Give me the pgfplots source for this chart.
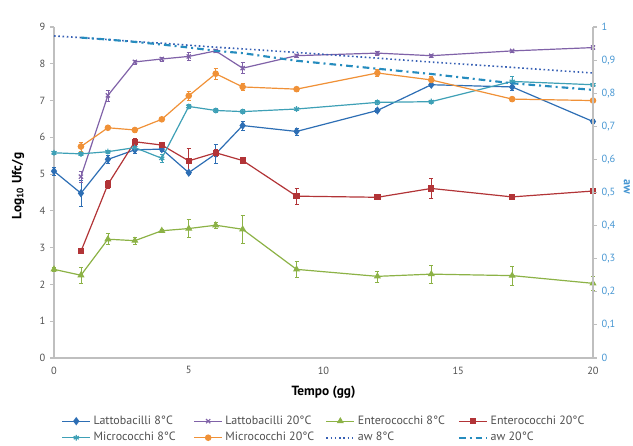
\documentclass[border=0pt]{standalone}
\usepackage{fontspec}
\setmainfont{PT Sans}
\usepackage{pgfplots}
\pgfplotsset{compat=1.18}
\definecolor{cLattA}{RGB}{45,110,180}
\definecolor{cLattB}{RGB}{128,98,168}
\definecolor{cEntA}{RGB}{140,178,70}
\definecolor{cEntB}{RGB}{178,52,55}
\definecolor{cMicA}{RGB}{62,160,182}
\definecolor{cMicB}{RGB}{240,145,55}
\definecolor{cAwA}{RGB}{55,96,180}
\definecolor{cAwB}{RGB}{38,140,190}
\definecolor{axgray}{RGB}{191,191,191}
\definecolor{txgray}{RGB}{80,80,80}
\definecolor{txblue}{RGB}{70,150,210}
\pgfplotsset{
  ser/.style={line width=0.9pt, mark size=2pt, mark options={solid}},
  latt8/.style={ser, color=cLattA, mark=diamond*, mark size=2.4pt},
  latt20/.style={ser, color=cLattB, mark=x, mark size=2.2pt},
  ent8/.style={ser, color=cEntA, mark=triangle*, mark size=2.2pt},
  ent20/.style={ser, color=cEntB, mark=square*, mark size=1.9pt},
  mic8/.style={ser, color=cMicA, mark=asterisk, mark size=2.2pt},
  mic20/.style={ser, color=cMicB, mark=*, mark size=2pt},
  aw8/.style={color=cAwA, line width=1.2pt, dotted, no markers},
  aw20/.style={color=cAwB, line width=1.6pt, dash pattern=on 5pt off 3pt on 1.5pt off 3pt, no markers},
  eb/.style={error bars/.cd, y dir=both, y explicit, error bar style={line width=0.4pt, solid}, error mark options={mark size=1.5pt, line width=0.4pt, solid, rotate=90}},
}
\newcommand{\legtxt}[1]{\makebox[69pt][l]{#1}}
\begin{document}
\begin{tikzpicture}
\begin{axis}[
  at={(0,0)}, anchor=south west, scale only axis,
  width=404.25pt, height=248.25pt,
  xmin=0, xmax=20, ymin=0, ymax=9,
  clip=false,
  axis x line*=bottom, axis y line*=left,
  axis line style={axgray, line width=0.8pt},
  xtick={0,5,10,15,20}, ytick={0,1,...,9},
  x tick style={draw=none},
  y tick style={axgray, line width=0.8pt},
  tick align=outside, major tick length=3pt,
  ticklabel style={font=\fontsize{7.8}{9}\selectfont, color=txgray},
  /pgf/number format/assume math mode=true,
  xlabel={\textbf{Tempo (gg)}},
  ylabel={\textbf{Log\textsubscript{10} Ufc/g}},
  label style={font=\fontsize{10}{12}\selectfont, color=black},
  xlabel style={at={(axis description cs:0.5,-0.103)}, anchor=center},
  ylabel style={at={(axis description cs:-0.0668,0.52)}, anchor=center},
]
\addplot[latt8, eb] table[x=x, y=y, y error=e] {
x y e
0 5.08 0.10
1 4.48 0.35
2 5.40 0.10
3 5.66 0.10
4 5.68 0.05
5 5.04 0.05
6 5.55 0.25
7 6.32 0.12
9 6.16 0.10
12 6.73 0.05
14 7.43 0.05
17 7.37 0.10
20 6.43 0.05
};
\addplot[latt20, eb] table[x=x, y=y, y error=e] {
x y e
1 4.93 0.15
2 7.14 0.15
3 8.05 0.05
4 8.13 0.05
5 8.20 0.10
6 8.35 0.05
7 7.88 0.15
9 8.22 0.05
12 8.29 0.05
14 8.22 0.05
17 8.35 0.03
20 8.44 0.05
};
\addplot[ent8, eb] table[x=x, y=y, y error=e] {
x y e
0 2.41 0.05
1 2.25 0.22
2 3.23 0.15
3 3.19 0.10
4 3.46 0.05
5 3.52 0.25
6 3.61 0.08
7 3.50 0.38
9 2.41 0.22
12 2.22 0.15
14 2.28 0.25
17 2.24 0.25
20 2.03 0.20
};
\addplot[ent20, eb] table[x=x, y=y, y error=e] {
x y e
1 2.90 0.05
2 4.72 0.10
3 5.88 0.10
4 5.79 0.05
5 5.36 0.33
6 5.58 0.10
7 5.37 0.05
9 4.40 0.22
12 4.37 0.05
14 4.61 0.28
17 4.38 0.05
20 4.54 0.05
};
\addplot[mic8, eb] table[x=x, y=y, y error=e] {
x y e
0 5.58 0.03
1 5.55 0.05
2 5.61 0.03
3 5.72 0.05
4 5.43 0.10
5 6.84 0.05
6 6.73 0.05
7 6.70 0.05
9 6.77 0.03
12 6.95 0.05
14 6.97 0.05
17 7.52 0.15
20 7.43 0.05
};
\addplot[mic20, eb] table[x=x, y=y, y error=e] {
x y e
1 5.75 0.12
2 6.26 0.05
3 6.20 0.05
4 6.49 0.05
5 7.13 0.12
6 7.73 0.15
7 7.37 0.10
9 7.31 0.05
12 7.75 0.10
14 7.56 0.10
17 7.04 0.05
20 7.00 0.05
};
\end{axis}
\begin{axis}[
  at={(0,0)}, anchor=south west, scale only axis,
  width=404.25pt, height=248.25pt,
  xmin=0, xmax=20, ymin=0, ymax=1,
  clip=false,
  axis x line=none, axis y line*=right,
  axis line style={axgray, line width=0.8pt},
  ytick={0,0.1,0.2,0.3,0.4,0.5,0.6,0.7,0.8,0.9,1},
  y tick style={axgray, line width=0.8pt},
  tick align=outside, major tick length=3pt,
  yticklabel style={font=\fontsize{7.8}{9}\selectfont, color=txblue,
    /pgf/number format/.cd, use comma, fixed, precision=1},
  /pgf/number format/assume math mode=true,
  ylabel={\textbf{aw}},
  ylabel style={font=\fontsize{9}{11}\selectfont, color=txblue, at={(axis description cs:1.0631,0.517)}, anchor=center, rotate=180},
  legend columns=4,
  legend cell align=left,
  legend style={draw=none, fill=none, at={(0.5,-0.158)}, anchor=north,
    font=\fontsize{9}{10.5}\selectfont, text=txgray, row sep=0.5pt,
    /tikz/every even column/.append style={column sep=4pt}},
  legend image code/.code={\draw[mark repeat=2, mark phase=2] plot coordinates {(0cm,0cm) (0.37cm,0cm) (0.74cm,0cm)};},
]
\addlegendimage{latt8}\addlegendentry{\legtxt{Lattobacilli 8°C}}
\addlegendimage{latt20}\addlegendentry{\legtxt{Lattobacilli 20°C}}
\addlegendimage{ent8}\addlegendentry{\legtxt{Enterococchi 8°C}}
\addlegendimage{ent20}\addlegendentry{\legtxt{Enterococchi 20°C}}
\addlegendimage{mic8}\addlegendentry{\legtxt{Micrococchi 8°C}}
\addlegendimage{mic20}\addlegendentry{\legtxt{Micrococchi 20°C}}
\addplot[aw8] table[x=x, y=y] {
x y
0 0.973
1 0.968
2 0.962
3 0.956
4 0.951
5 0.945
6 0.939
7 0.934
9 0.923
12 0.906
14 0.894
17 0.878
20 0.861
};
\addlegendentry{\legtxt{aw 8°C}}
\addplot[aw20] table[x=x, y=y] {
x y
1 0.968
2 0.962
3 0.955
4 0.947
5 0.938
6 0.928
7 0.921
9 0.898
12 0.874
14 0.858
17 0.830
20 0.810
};
\addlegendentry{\legtxt{aw 20°C}}
\end{axis}
\pgfresetboundingbox
\path[use as bounding box] (-40.5pt,-66pt) rectangle (434.25pt,268.5pt);
\end{tikzpicture}
\end{document}
